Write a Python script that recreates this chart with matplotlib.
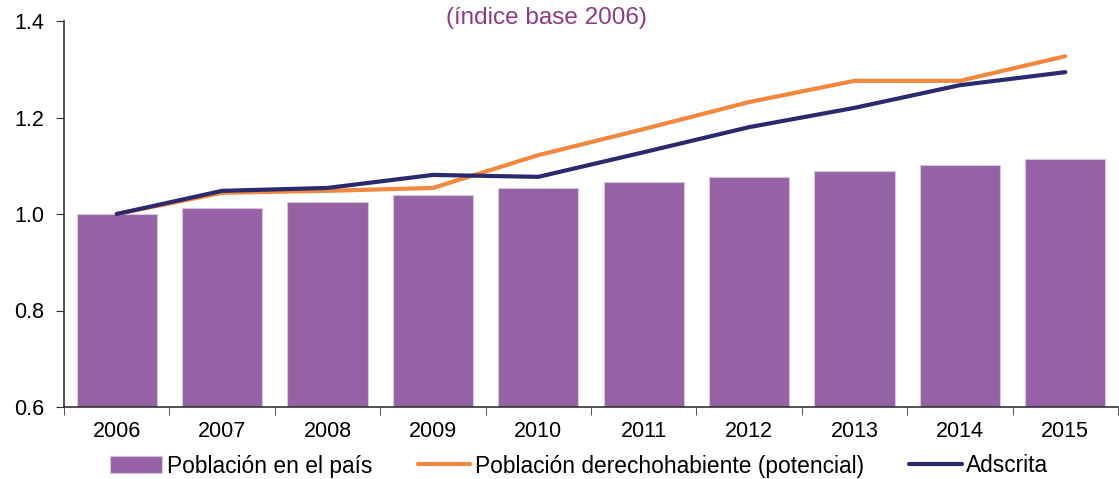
import matplotlib
matplotlib.use("Agg")
import matplotlib.pyplot as plt
import numpy as np

years = ["2006", "2007", "2008", "2009", "2010", "2011", "2012", "2013", "2014", "2015"]
poblacion_pais = [1.000, 1.012, 1.025, 1.039, 1.053, 1.066, 1.077, 1.089, 1.102, 1.114]
derechohabiente = [1.000, 1.044, 1.048, 1.054, 1.122, 1.176, 1.232, 1.276, 1.276, 1.327]
adscrita = [1.000, 1.048, 1.054, 1.081, 1.077, 1.128, 1.180, 1.220, 1.267, 1.294]

plt.rcParams['font.family'] = ['Liberation Sans', 'DejaVu Sans']

fig = plt.figure(figsize=(11.19, 4.79), dpi=100)
ax = fig.add_axes([64/1119, 1-407/479, (1118-64)/1119, (407-21)/479])

x = np.arange(len(years))
b = ax.bar(x, [v - 0.6 for v in poblacion_pais], bottom=0.6, width=0.76, color='#9563A5',
           edgecolor='#d8c4de', linewidth=0.8, label='Población en el país', zorder=2)
l1, = ax.plot(x, derechohabiente, color='#F0883E', lw=3, solid_capstyle='round',
              label='Población derechohabiente (potencial)', zorder=3)
l2, = ax.plot(x, adscrita, color='#2B2A6E', lw=3, solid_capstyle='round',
              label='Adscrita', zorder=4)

ax.set_xlim(-0.5, len(years) - 0.5)
ax.set_ylim(0.6, 1.4)
ax.set_yticks([0.6, 0.8, 1.0, 1.2, 1.4])
ax.set_yticklabels(["0.6", "0.8", "1.0", "1.2", "1.4"])
ax.set_xticks(x)
ax.set_xticklabels(years)
ax.tick_params(axis='x', which='major', length=0, pad=10, labelsize=15.5)
ax.set_xticks(np.arange(-0.5, len(years), 1.0), minor=True)
ax.tick_params(axis='x', which='minor', length=6, direction='out', color='#333333')
ax.tick_params(axis='y', length=6, direction='out', labelsize=15.5, pad=8, color='#333333')
for s in ['top', 'right']:
    ax.spines[s].set_visible(False)
for s in ['left', 'bottom']:
    ax.spines[s].set_color('#333333')
    ax.spines[s].set_linewidth(1.2)

fig.text(546/1119, 1-18/479, "(índice base 2006)", color='#8E3B84', fontsize=17.5,
         ha='center', va='center')

fig.legend([b, l1, l2], ['Población en el país', 'Población derechohabiente (potencial)', 'Adscrita'],
           loc='center', bbox_to_anchor=(579/1119, 1-466/479), ncol=3, frameon=False,
           fontsize=16.4, handlelength=2.3, handleheight=0.75, handletextpad=0.2,
           columnspacing=2.0)

fig.savefig("out.png", dpi=100)
